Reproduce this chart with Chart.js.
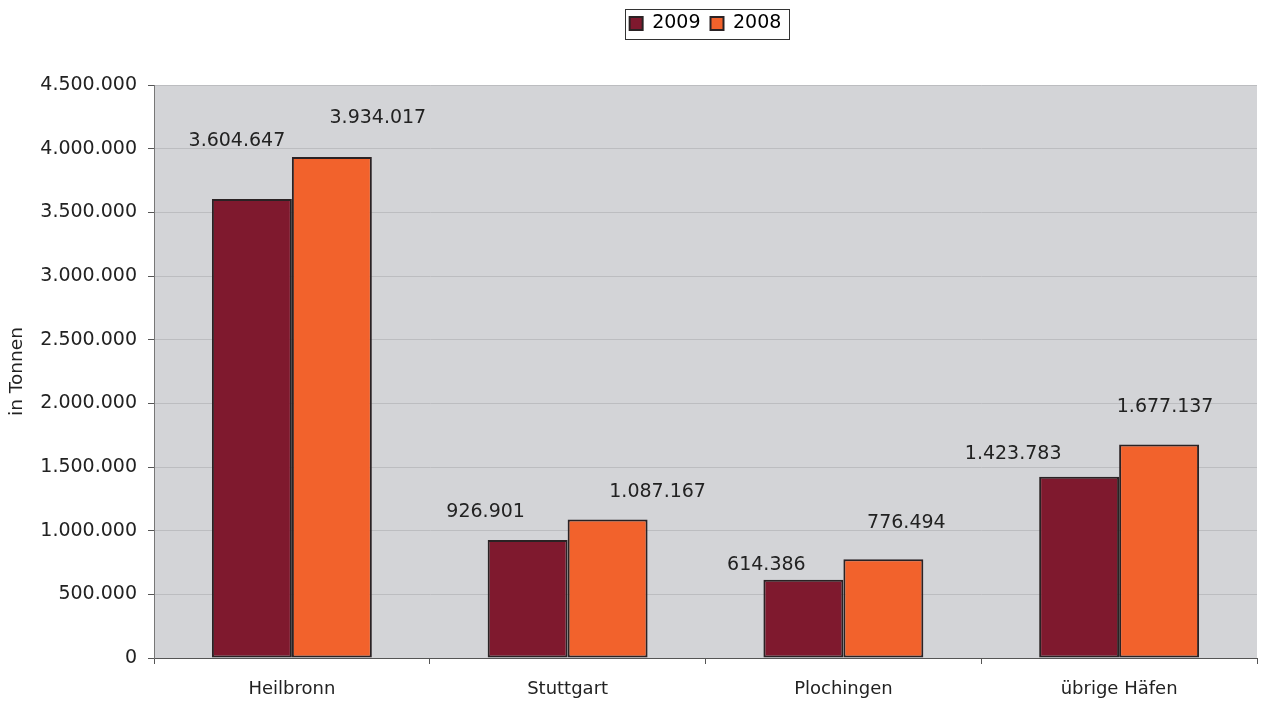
<!DOCTYPE html>
<html>
<head>
<meta charset="utf-8">
<script src="https://cdn.jsdelivr.net/npm/chart.js@4/dist/chart.umd.min.js"></script>
<style>
  html, body { margin: 0; padding: 0; background: #fff; }
  #wrap { width: 1262px; height: 701px; }
</style>
</head>
<body>
<div id="wrap"><canvas id="chart" width="1262" height="701"></canvas></div>
<script>
const categories = ['Heilbronn', 'Stuttgart', 'Plochingen', 'übrige Häfen'];
const values2009 = [3604647, 926901, 614386, 1423783];
const values2008 = [3934017, 1087167, 776494, 1677137];
const yTicks = [0, 500000, 1000000, 1500000, 2000000, 2500000, 3000000, 3500000, 4000000, 4500000];

// label offsets from the bar top (Excel placed them somewhat freely)
const labelShift2009 = [[-15, -58], [-42, -28], [-37, -15], [-66, -23]];
const labelShift2008 = [[46, -39], [50, -28], [23, -36], [6, -37]];

const FONT = 'DejaVu Sans';

function fmt(v) {
    return String(v).replace(/\B(?=(\d{3})+(?!\d))/g, '.');
}

const plotBg = {
    id: 'plotBg',
    beforeDraw(chart) {
        const a = chart.chartArea;
        const c = chart.ctx;
        c.save();
        c.fillStyle = '#d3d4d7';
        c.fillRect(a.left, a.top, a.right - a.left, a.bottom - a.top);
        c.restore();
    }
};

const legendTweak = {
    id: 'legendTweak',
    beforeLayout(chart) {
        const lg = chart.legend;
        if (lg && !lg._patched) {
            const fit = lg.fit;
            lg.fit = function () {
                fit.call(this);
                this.height = 81;
            };
            lg._patched = true;
        }
    },
    afterDraw(chart) {
        const boxes = chart.legend.legendHitBoxes;
        if (!boxes || !boxes.length) return;
        const first = boxes[0], last = boxes[boxes.length - 1];
        const c = chart.ctx;
        c.save();
        c.strokeStyle = '#333';
        c.lineWidth = 1;
        const x0 = first.left - 5, x1 = last.left + last.width + 7;
        const y0 = first.top - 5, y1 = first.top + first.height + 6;
        c.strokeRect(Math.round(x0) + 0.5, Math.round(y0) + 0.5, Math.round(x1 - x0), Math.round(y1 - y0));
        c.restore();
    }
};

const valueLabels = {
    id: 'valueLabels',
    afterDatasetsDraw(chart) {
        const c = chart.ctx;
        c.save();
        c.font = '19px "' + FONT + '"';
        c.fillStyle = '#222';
        c.textAlign = 'center';
        c.textBaseline = 'middle';
        chart.data.datasets.forEach((ds, di) => {
            const meta = chart.getDatasetMeta(di);
            const shifts = di === 0 ? labelShift2009 : labelShift2008;
            meta.data.forEach((bar, i) => {
                c.fillText(fmt(ds.data[i]), bar.x + shifts[i][0], bar.y + shifts[i][1]);
            });
        });
        c.restore();
    }
};

const ctx = document.getElementById('chart').getContext('2d');
const chart = new Chart(ctx, {
    type: 'bar',
    data: {
        labels: categories,
        datasets: [
            {
                label: '2009',
                data: values2009,
                backgroundColor: '#7f192e',
                borderColor: '#2a2224',
                borderWidth: 2,
                borderSkipped: false
            },
            {
                label: '2008',
                data: values2008,
                backgroundColor: '#f2622c',
                borderColor: '#2a2224',
                borderWidth: 2,
                borderSkipped: false
            }
        ]
    },
    options: {
        responsive: false,
        animation: false,
        devicePixelRatio: 1,
        layout: { padding: { top: 4, right: 5, left: 0, bottom: 0 } },
        datasets: {
            bar: { categoryPercentage: 0.58, barPercentage: 1 }
        },
        plugins: {
            legend: {
                position: 'top',
                fullSize: false,
                labels: {
                    font: { family: FONT, size: 19 },
                    color: '#222',
                    boxWidth: 13,
                    boxHeight: 13,
                    padding: 10,
                    useBorderRadius: false,
                    generateLabels(chart) {
                        return chart.data.datasets.map((ds, i) => ({
                            text: ds.label,
                            fillStyle: ds.backgroundColor,
                            strokeStyle: '#2a2224',
                            lineWidth: 2,
                            datasetIndex: i,
                            hidden: false
                        }));
                    }
                }
            },
            tooltip: { enabled: false }
        },
        scales: {
            x: {
                offset: true,
                grid: {
                    offset: true,
                    drawOnChartArea: false,
                    tickLength: 6,
                    color: '#555'
                },
                border: { color: '#555', width: 1 },
                ticks: {
                    font: { family: FONT, size: 18 },
                    color: '#222',
                    padding: 15
                },
                afterFit(scale) { scale.height = 43; }
            },
            y: {
                min: 0,
                max: 4500000,
                afterBuildTicks(scale) {
                    scale.ticks = yTicks.map(v => ({ value: v }));
                },
                grid: {
                    color: '#bcbdc0',
                    tickLength: 6,
                    tickColor: '#555'
                },
                border: { color: '#777', width: 1 },
                ticks: {
                    font: { family: FONT, size: 19 },
                    color: '#222',
                    padding: 11,
                    callback: v => fmt(v)
                },
                title: {
                    display: true,
                    text: 'in Tonnen',
                    font: { family: FONT, size: 18.5 },
                    color: '#222',
                    padding: { top: 6, bottom: 0 }
                },
                afterFit(scale) { scale.width = 154; }
            }
        }
    },
    plugins: [plotBg, legendTweak, valueLabels]
});
</script>
</body>
</html>
